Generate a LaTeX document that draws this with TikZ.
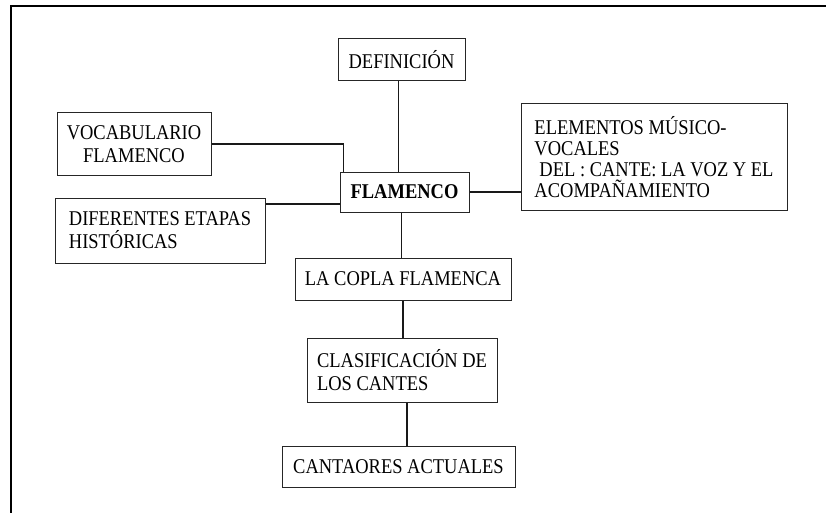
\documentclass[tikz,border=0pt]{standalone}
\usepackage{fontspec}
\setmainfont{Liberation Serif}[FakeStretch=0.88]
\usepackage{tikz}
\usetikzlibrary{positioning}

\begin{document}
\begin{tikzpicture}[x=1pt,y=-1pt]
\tikzstyle{box} = [draw,color=black!85,text=black,line width=1pt,inner sep=0pt,font=\fontsize{21}{23}\selectfont]
\tikzstyle{lbox} = [box,align=left]
\tikzstyle{link} = [line width=1.4pt,color=black!90]
\tikzstyle{frame} = [line width=2.6pt]

\useasboundingbox (0,0) rectangle (826,513);
\draw[frame] (826,6) -- (11,6) -- (11,513);

\node[box,minimum width=127pt,minimum height=42pt] (def) at (401.5,60) {DEFINICIÓN};
\node[box,minimum width=129pt,minimum height=40pt,font=\fontsize{21}{23}\selectfont\bfseries] (flam) at (404.5,192) {FLAMENCO};
\node[box,align=center,minimum width=154pt,minimum height=62pt] (voc) at (134,144) {VOCABULARIO\\FLAMENCO};
\node[lbox,minimum width=210pt,minimum height=65pt] (dif) at (160,230.5) {DIFERENTES ETAPAS\\HISTÓRICAS};
\node[lbox,minimum width=266pt,minimum height=106pt,font=\fontsize{21}{21}\selectfont] (ele) at (654,157) {ELEMENTOS MÚSICO-\\VOCALES\\\hspace*{5pt}DEL : CANTE: LA VOZ Y EL\\ACOMPAÑAMIENTO};

\node[box,minimum width=216pt,minimum height=42pt] (copla) at (403,279) {LA COPLA FLAMENCA};
\node[lbox,minimum width=190pt,minimum height=64pt] (clas) at (402,370) {CLASIFICACIÓN DE\\LOS CANTES};
\node[box,minimum width=233pt,minimum height=41pt] (cant) at (398.5,466.5) {CANTAORES ACTUALES};

% lines out of FLAMENCO
\draw[link] ([xshift=-3pt]def.south) -- ([xshift=-3pt]def.south |- flam.north);
\draw[link] (voc.east) -| ([xshift=4pt]flam.north west);
\draw[link] (dif.east |- 0,204) -- (flam.west |- 0,204);
\draw[link] (flam.east) -- (flam.east -| ele.west);
\draw[link] ([xshift=-3pt]flam.south) -- ([xshift=-3pt]flam.south |- copla.north);

\draw[link] (copla.south) -- (copla.south |- clas.north);
\draw[link] ([xshift=5pt]clas.south) -- ([xshift=5pt]clas.south |- cant.north);

\end{tikzpicture}
\end{document}
